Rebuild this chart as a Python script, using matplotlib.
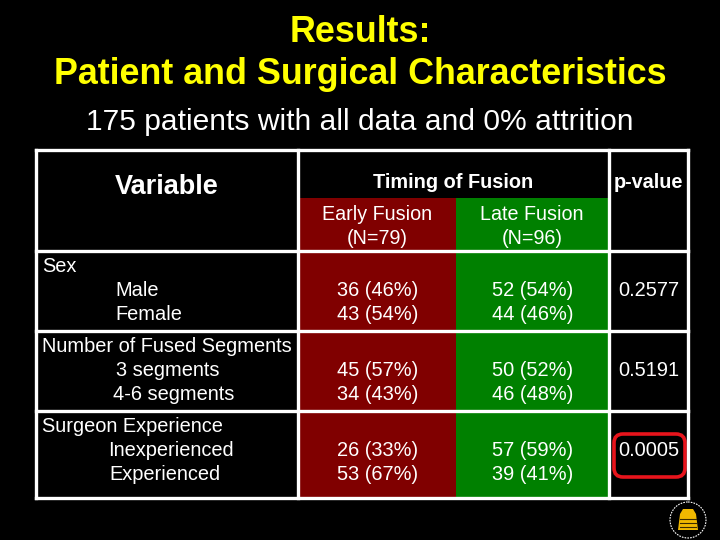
import matplotlib.pyplot as plt
from matplotlib.patches import Rectangle, FancyBboxPatch, Circle, Polygon

# table content
title_line1 = "Results:"
title_line2 = "Patient and Surgical Characteristics"
subtitle = "175 patients with all data and 0% attrition"

groups = ["Sex", "Number of Fused Segments", "Surgeon Experience"]
levels = [["Male", "Female"], ["3 segments", "4-6 segments"], ["Inexperienced", "Experienced"]]

early_n = [[36, 43], [45, 34], [26, 53]]
early_pct = [[46, 54], [57, 43], [33, 67]]
late_n = [[52, 44], [50, 46], [57, 39]]
late_pct = [[54, 46], [52, 48], [59, 41]]
p_values = ["0.2577", "0.5191", "0.0005"]
highlight = [False, False, True]

early_label = ["Early Fusion", "(N=79)"]
late_label = ["Late Fusion", "(N=96)"]

# layout (pixels, y down)
col_x = [36, 298, 456, 609, 688]
row_y = [150, 198, 251, 331, 411, 498]
level_x = [[115, 115], [116, 113], [108, 109]]

dark_red = "#800000"
green = "#008000"
yellow = "#FFFF00"

arial = ["Liberation Sans", "DejaVu Sans"]

fig = plt.figure(figsize=(7.2, 5.4), dpi=100, facecolor="black")
ax = fig.add_axes([0, 0, 1, 1])
ax.set_facecolor("black")
ax.set_xlim(0, 720)
ax.set_ylim(540, 0)
ax.axis("off")

# titles
ax.text(360, 32, title_line1, color=yellow, fontsize=25.8, fontweight="bold",
        family=arial, ha="center", va="center")
ax.text(360, 74, title_line2, color=yellow, fontsize=25.8, fontweight="bold",
        family=arial, ha="center", va="center")
ax.text(360, 122, subtitle, color="white", fontsize=21.6,
        family=arial, ha="center", va="center")

# coloured columns
ax.add_patch(Rectangle((col_x[1], row_y[1]), col_x[2] - col_x[1], row_y[-1] - row_y[1],
                       facecolor=dark_red, edgecolor="none"))
ax.add_patch(Rectangle((col_x[2], row_y[1]), col_x[3] - col_x[2], row_y[-1] - row_y[1],
                       facecolor=green, edgecolor="none"))

# grid lines
lw = 2.4
for x in [col_x[0], col_x[1], col_x[3], col_x[4]]:
    ax.plot([x, x], [row_y[0], row_y[-1]], color="white", lw=lw, solid_capstyle="projecting")
for y in [row_y[0], row_y[2], row_y[3], row_y[4], row_y[5]]:
    ax.plot([col_x[0], col_x[4]], [y, y], color="white", lw=lw, solid_capstyle="projecting")

# header
ax.text((col_x[0] + col_x[1]) / 2, 187, "Variable", color="white", fontsize=19.5,
        fontweight="bold", family=arial, ha="center", va="center")
ax.text((col_x[1] + col_x[3]) / 2, 182, "Timing of Fusion", color="white", fontsize=14.3,
        fontweight="bold", family=arial, ha="center", va="center")
ax.text((col_x[3] + col_x[4]) / 2, 182, "p-value", color="white", fontsize=14.3,
        fontweight="bold", family=arial, ha="center", va="center")
for k, y in enumerate([214, 238]):
    ax.text(377.5, y, early_label[k], color="white", fontsize=14.2, family=arial,
            ha="center", va="center")
    ax.text(532, y, late_label[k], color="white", fontsize=14.2, family=arial,
            ha="center", va="center")

# body
for g in range(len(groups)):
    top = row_y[2 + g]
    ax.text(42, top + 15, groups[g], color="white", fontsize=14.4, family=arial,
            ha="left", va="center")
    for k in range(2):
        y = top + 39 + 24 * k
        ax.text(level_x[g][k], y, levels[g][k], color="white", fontsize=14.4,
                family=arial, ha="left", va="center")
        ax.text(377.5, y, f"{early_n[g][k]} ({early_pct[g][k]}%)", color="white",
                fontsize=14.4, family=arial, ha="center", va="center")
        ax.text(532.5, y, f"{late_n[g][k]} ({late_pct[g][k]}%)", color="white",
                fontsize=14.4, family=arial, ha="center", va="center")
    ax.text(649, top + 39, p_values[g], color="white", fontsize=14.4, family=arial,
            ha="center", va="center")
    if highlight[g]:
        ax.add_patch(FancyBboxPatch((614, top + 23), 71, 43,
                                    boxstyle="round,pad=0,rounding_size=9",
                                    facecolor="none", edgecolor="#e8141c", lw=2.6))

# small emblem in the corner
ax.add_patch(Circle((688, 520), 18, facecolor="black", edgecolor="white",
                    lw=0.8, linestyle=(0, (1.5, 1))))
ax.add_patch(Polygon([[678, 530], [680, 514], [683, 509], [693, 509], [696, 514], [698, 530]],
                     closed=True, facecolor="#f0b800", edgecolor="none"))
for yy in [519, 523, 527]:
    ax.plot([680, 696], [yy, yy], color="#3a2a00", lw=0.8)

fig.savefig("out.png", dpi=100, facecolor="black")
